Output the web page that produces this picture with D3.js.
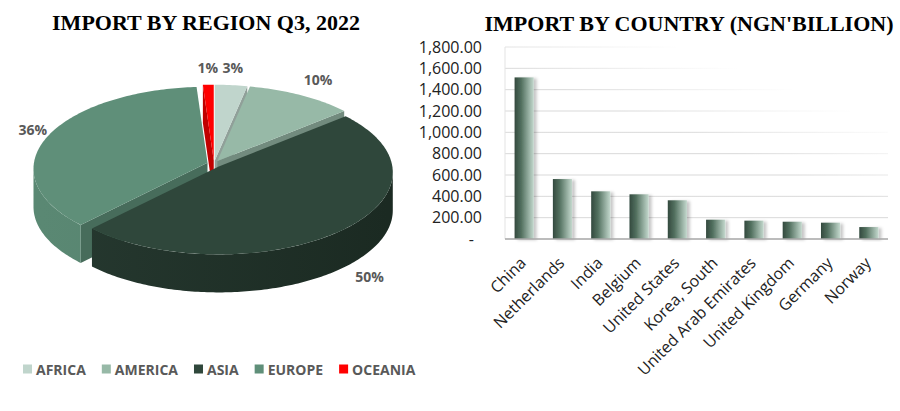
<!DOCTYPE html>
<html>
<head>
<meta charset="utf-8">
<script src="https://cdn.jsdelivr.net/npm/d3@7"></script>
<style>
  body { margin: 0; background: #fff; }
  svg { display: block; }
  .title { font-family: "Liberation Serif", "Times New Roman", serif; font-weight: bold; font-size: 22px; fill: #000; }
  .pct, .legend text { font-family: "Open Sans", sans-serif; font-weight: bold; font-size: 14px; fill: #595959; }
  .axis text { font-family: "Open Sans", sans-serif; font-size: 16px; fill: #222; }
</style>
</head>
<body>
<svg id="chart" width="900" height="411"></svg>
<script>
// region shares (pie)
var regions = ["AFRICA", "AMERICA", "ASIA", "EUROPE", "OCEANIA"];
var regionShare = [3, 10, 50, 36, 1];
var regionColors = ["#c0d5cc", "#97b9a7", "#2f473b", "#5f8f79", "#ff0000"];

// imports by country, NGN billion (bars)
var countries = ["China", "Netherlands", "India", "Belgium", "United States",
  "Korea, South", "United Arab Emirates", "United Kingdom", "Germany", "Norway"];
var importValues = [1515, 562, 447, 419, 363, 181, 172, 162, 153, 112];
var yTicks = [0, 200, 400, 600, 800, 1000, 1200, 1400, 1600, 1800];

var svg = d3.select("#chart");
var defs = svg.append("defs");

// ---------- titles ----------
svg.append("text").attr("class", "title")
  .attr("x", 206).attr("y", 30).attr("text-anchor", "middle")
  .text("IMPORT BY REGION Q3, 2022");

svg.append("text").attr("class", "title")
  .attr("x", 689).attr("y", 31).attr("text-anchor", "middle")
  .text("IMPORT BY COUNTRY (NGN'BILLION)");

// ---------- 3D pie ----------
// rim is an ellipse centred at (cx, ey); the apex sits a bit higher (perspective)
var pie = { cx: 214, apexY: 164, ey: 170, rx: 174, ry: 82, depth: 38, explode: 7 };

function pt(a, r, off, dz) {
  var rimX = pie.cx + pie.rx * Math.sin(a);
  var rimY = pie.ey - pie.ry * Math.cos(a);
  return [pie.cx + off[0] + r * (rimX - pie.cx),
          pie.apexY + off[1] + r * (rimY - pie.apexY) + (dz || 0)];
}

function arcPts(a0, a1, off, dz) {
  var n = Math.max(2, Math.ceil((a1 - a0) / (Math.PI / 180)));
  var out = [];
  for (var i = 0; i <= n; i++) {
    out.push(pt(a0 + (a1 - a0) * i / n, 1, off, dz));
  }
  return out;
}

var line = d3.line();

var arcs = d3.pie().sort(null).value(function (d) { return d; })(regionShare);
arcs.forEach(function (d, i) {
  var mid = (d.startAngle + d.endAngle) / 2;
  d.mid = mid;
  d.color = regionColors[i];
  d.off = [pie.explode * Math.sin(mid), -pie.explode * Math.cos(mid) * 0.47];
});

// back to front
var drawOrder = arcs.slice().sort(function (a, b) {
  return (pt(a.mid, 0.6, a.off)[1]) - (pt(b.mid, 0.6, b.off)[1]);
});

var pieG = svg.append("g").attr("class", "pie");

drawOrder.forEach(function (d, n) {
  var g = pieG.append("g");
  var c = d3.color(d.color);
  var a0 = d.startAngle, a1 = d.endAngle;
  var apexT = pt(0, 0, d.off), apexB = pt(0, 0, d.off, pie.depth);
  var faceCol = c.darker(0.8).toString();
  var k = 0.25 + 1.1 * Math.max(0, Math.sin(d.mid));

  var wg = defs.append("linearGradient").attr("id", "wall" + n)
    .attr("gradientUnits", "userSpaceOnUse")
    .attr("x1", pie.cx - pie.rx).attr("y1", 0)
    .attr("x2", pie.cx + pie.rx).attr("y2", 0);
  wg.append("stop").attr("offset", 0).attr("stop-color", c.darker(k * 0.6).toString());
  wg.append("stop").attr("offset", 1).attr("stop-color", c.darker(k * 1.5).toString());

  // radial cut faces
  if (Math.sin(a0) < -1e-6) {
    g.append("path").attr("fill", faceCol)
      .attr("d", line([apexT, pt(a0, 1, d.off), pt(a0, 1, d.off, pie.depth), apexB]) + "Z");
  }
  if (Math.sin(a1) > 1e-6) {
    g.append("path").attr("fill", faceCol)
      .attr("d", line([apexT, pt(a1, 1, d.off), pt(a1, 1, d.off, pie.depth), apexB]) + "Z");
  }

  // outer wall on the front half
  var w0 = Math.max(a0, Math.PI / 2), w1 = Math.min(a1, Math.PI * 1.5);
  if (w1 > w0) {
    var top = arcPts(w0, w1, d.off, 0);
    var bot = arcPts(w0, w1, d.off, pie.depth).reverse();
    g.append("path").attr("fill", "url(#wall" + n + ")")
      .attr("d", line(top.concat(bot)) + "Z");
  }

  // top face
  g.append("path").attr("fill", d.color)
    .attr("d", line([apexT].concat(arcPts(a0, a1, d.off, 0))) + "Z");
});

// percentage labels
arcs.forEach(function (d) {
  var s = Math.sin(d.mid), co = Math.cos(d.mid);
  var dx = 14 + 44 * Math.max(0, -co) + 50 * Math.max(0, s) * Math.max(0, co);
  var lx = pie.cx + d.off[0] + s * (pie.rx + dx);
  var ly = pie.ey + d.off[1] - co * (pie.ry + 14) + (co < 0 ? pie.depth : 0) - 3;
  svg.append("text").attr("class", "pct")
    .attr("x", lx).attr("y", ly).attr("dy", "0.35em")
    .attr("text-anchor", "middle")
    .text(d.data + "%");
});

// legend
var legend = svg.append("g").attr("class", "legend");
var lx = 23;
regions.forEach(function (name, i) {
  legend.append("rect").attr("x", lx).attr("y", 364.5)
    .attr("width", 9).attr("height", 9).attr("fill", regionColors[i]);
  var t = legend.append("text").attr("x", lx + 13).attr("y", 374.5).text(name);
  lx += 13 + t.node().getComputedTextLength() + 16;
});

// ---------- bar chart ----------
var x = d3.scaleBand().domain(countries).range([505, 888])
  .paddingInner(0.5).paddingOuter(0.25);
var y = d3.scaleLinear().domain([0, 1800]).range([239, 47]);

var grad = defs.append("linearGradient").attr("id", "gridFade")
  .attr("gradientUnits", "userSpaceOnUse")
  .attr("x1", 666).attr("y1", 128).attr("x2", 694).attr("y2", 52);
grad.append("stop").attr("offset", 0).attr("stop-color", "#d9d9d9").attr("stop-opacity", 1);
grad.append("stop").attr("offset", 1).attr("stop-color", "#d9d9d9").attr("stop-opacity", 0);

var barGrad = defs.append("linearGradient").attr("id", "barGrad")
  .attr("x1", 0).attr("y1", 0).attr("x2", 1).attr("y2", 0);
barGrad.append("stop").attr("offset", 0).attr("stop-color", "#33493e");
barGrad.append("stop").attr("offset", 0.35).attr("stop-color", "#52705f");
barGrad.append("stop").attr("offset", 1).attr("stop-color", "#c3d8cd");

var shadow = defs.append("filter").attr("id", "barShadow")
  .attr("x", "-30%").attr("y", "-10%").attr("width", "180%").attr("height", "130%");
shadow.append("feDropShadow").attr("dx", 3).attr("dy", 1)
  .attr("stdDeviation", 1.5).attr("flood-color", "#000").attr("flood-opacity", 0.22);

var plot = svg.append("g").attr("class", "bars");

plot.selectAll("line.grid")
  .data(yTicks.filter(function (t) { return t > 0; }))
  .enter().append("line").attr("class", "grid")
  .attr("x1", 505).attr("x2", 888)
  .attr("y1", function (d) { return y(d); })
  .attr("y2", function (d) { return y(d); })
  .attr("stroke", "url(#gridFade)").attr("stroke-width", 1);

plot.append("line").attr("x1", 505).attr("x2", 505)
  .attr("y1", y(1800)).attr("y2", y(0))
  .attr("stroke", "#e3e3e3");

plot.selectAll("rect.bar")
  .data(importValues)
  .enter().append("rect").attr("class", "bar")
  .attr("x", function (d, i) { return x(countries[i]); })
  .attr("y", function (d) { return y(d); })
  .attr("width", x.bandwidth())
  .attr("height", function (d) { return y(0) - y(d); })
  .attr("fill", "url(#barGrad)")
  .attr("filter", "url(#barShadow)");

plot.append("line").attr("x1", 505).attr("x2", 888)
  .attr("y1", y(0)).attr("y2", y(0))
  .attr("stroke", "#a6a6a6").attr("stroke-width", 1.5);

var yAxis = d3.axisLeft(y).tickValues(yTicks).tickSize(0).tickPadding(0)
  .tickFormat(function (d) { return d === 0 ? "-" : d3.format(",.2f")(d); });

var yG = svg.append("g").attr("class", "axis").attr("transform", "translate(482,0)").call(yAxis);
yG.select(".domain").remove();
yG.selectAll("text").filter(function (d) { return d === 0; }).attr("dx", -8);

var xAxis = d3.axisBottom(x).tickSize(0);
var xG = svg.append("g").attr("class", "axis").attr("transform", "translate(0," + y(0) + ")").call(xAxis);
xG.select(".domain").remove();
xG.selectAll("text")
  .attr("x", 0).attr("y", 0).attr("dy", 0)
  .attr("text-anchor", "end")
  .attr("transform", "translate(3,25) rotate(-45)");
</script>
</body>
</html>
